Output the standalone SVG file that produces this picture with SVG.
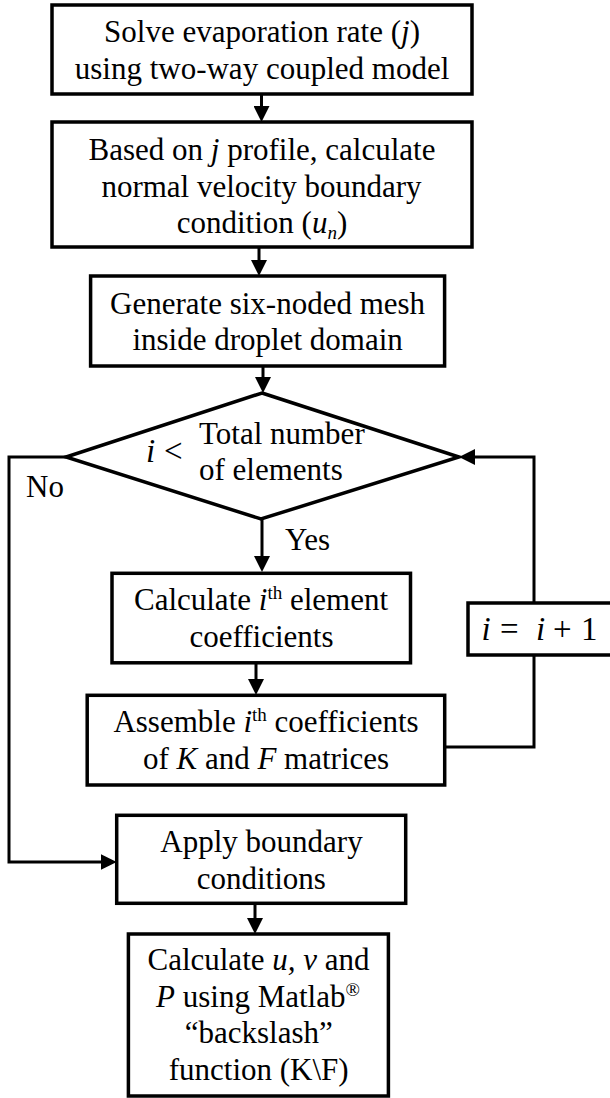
<svg xmlns="http://www.w3.org/2000/svg" width="610" height="1098" viewBox="0 0 610 1098">
<style>
.box{fill:#fff;stroke:#000;stroke-width:3.5}
.t{font-family:"Liberation Serif","Times New Roman",serif;font-size:31px;fill:#000;text-anchor:middle}
.l{font-family:"Liberation Serif","Times New Roman",serif;font-size:31px;fill:#000}
.m{font-family:"Liberation Serif","Times New Roman",serif;font-size:33px;fill:#000}
.i{font-style:italic}
.sup{font-size:19px}
.con{fill:none;stroke:#000;stroke-width:3}
</style>
<defs>
<marker id="ah" markerUnits="userSpaceOnUse" markerWidth="16" markerHeight="16" viewBox="0 0 16 16" refX="12" refY="8" orient="auto">
<path d="M0,0 L16,8 L0,16 z" fill="#000"/>
</marker>
</defs>
<rect width="610" height="1098" fill="#fff"/>
<g id="connectors">
<line class="con" x1="261.5" y1="94" x2="261.5" y2="118" marker-end="url(#ah)"/>
<line class="con" x1="259" y1="247" x2="259" y2="272" marker-end="url(#ah)"/>
<line class="con" x1="263" y1="366" x2="263" y2="389" marker-end="url(#ah)"/>
<line class="con" x1="262" y1="519" x2="262" y2="568" marker-end="url(#ah)"/>
<line class="con" x1="256" y1="663" x2="256" y2="691" marker-end="url(#ah)"/>
<line class="con" x1="255" y1="903" x2="255" y2="930" marker-end="url(#ah)"/>
<polyline class="con" points="66,457 9,457 9,862 112.7,862" marker-end="url(#ah)"/>
<polyline class="con" points="444.7,747 534,747 534,655"/>
<polyline class="con" points="534,603 534,457 463,457" marker-end="url(#ah)"/>
</g>
<g id="n1">
<rect class="box" x="52" y="5" width="420" height="89"/>
<text class="t" x="262" y="42">Solve evaporation rate (<tspan class="i">j</tspan>)</text>
<text class="t" x="262" y="78.5">using two-way coupled model</text>
</g>
<g id="n2">
<rect class="box" x="52" y="122" width="420" height="125"/>
<text class="t" x="262" y="160">Based on <tspan class="i">j</tspan> profile, calculate</text>
<text class="t" x="261.5" y="196.5">normal velocity boundary</text>
<text class="t" x="262" y="233">condition (<tspan class="i">u</tspan><tspan class="i sup" dy="6">n</tspan><tspan dy="-6">)</tspan></text>
</g>
<g id="n3">
<rect class="box" x="90.6" y="276" width="354" height="90"/>
<text class="t" x="267.6" y="313.5">Generate six-noded mesh</text>
<text class="t" x="267.6" y="350">inside droplet domain</text>
</g>
<g id="n4">
<polygon class="box" points="262,393 459,457 261,519 66,457"/>
<text class="m i" x="146" y="462">i</text>
<text class="m" x="164" y="462">&lt;</text>
<text class="l" x="199" y="443.5">Total number</text>
<text class="l" x="199" y="480">of elements</text>
</g>
<text class="l" x="26" y="496.5">No</text>
<text class="l" x="285" y="550">Yes</text>
<g id="n5">
<rect class="box" x="112" y="573.3" width="298.5" height="89.5"/>
<text class="t" x="261" y="610">Calculate <tspan class="i">i</tspan><tspan class="sup" dy="-11">th</tspan><tspan dy="11"> element</tspan></text>
<text class="t" x="261.5" y="646.7">coefficients</text>
</g>
<g id="n6">
<rect class="box" x="87.2" y="695.3" width="357.5" height="89.7"/>
<text class="t" x="266" y="731.7">Assemble <tspan class="i">i</tspan><tspan class="sup" dy="-11">th</tspan><tspan dy="11"> coefficients</tspan></text>
<text class="t" x="266" y="769.3">of <tspan class="i">K</tspan> and <tspan class="i">F</tspan> matrices</text>
</g>
<g id="n7">
<rect class="box" x="468" y="603" width="160" height="52"/>
<text class="m i" x="481.5" y="640">i</text>
<text class="m" x="500" y="640">=</text>
<text class="m i" x="536" y="640">i</text>
<text class="m" x="553" y="640">+</text>
<text class="m" x="581" y="640">1</text>
</g>
<g id="n8">
<rect class="box" x="116.7" y="815.3" width="289" height="88"/>
<text class="t" x="261.5" y="852">Apply boundary</text>
<text class="t" x="261.3" y="888.5">conditions</text>
</g>
<g id="n9">
<rect class="box" x="128.4" y="934" width="260" height="162"/>
<text class="t" x="258.5" y="970">Calculate <tspan class="i">u, v</tspan> and</text>
<text class="t" x="258" y="1006.7"><tspan class="i">P</tspan> using Matlab<tspan class="sup" dy="-11">®</tspan></text>
<text class="t" x="258.8" y="1043.3">“backslash”</text>
<text class="t" x="258.7" y="1080">function (K\F)</text>
</g>
</svg>
